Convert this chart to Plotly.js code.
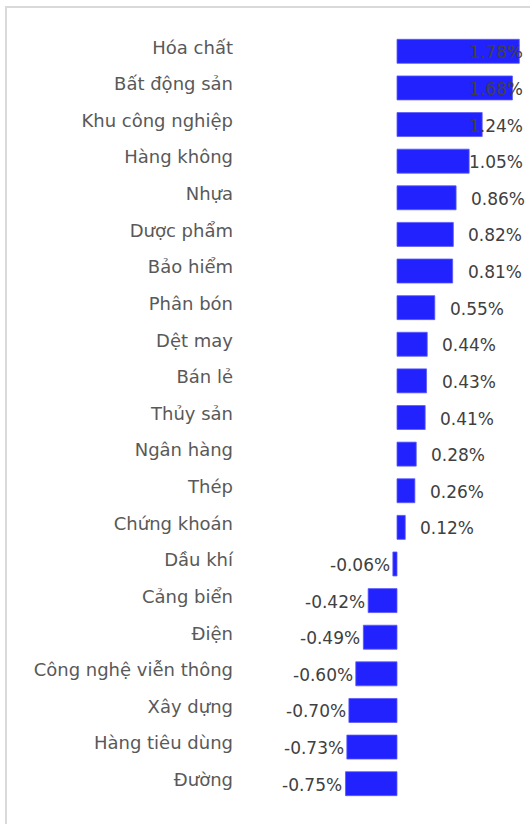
<!DOCTYPE html>
<html>
<head>
<meta charset="utf-8">
<script src="https://cdn.plot.ly/plotly-3.0.1.min.js"></script>
<style>
  html, body { margin: 0; padding: 0; background: #fff; }
  #frame { position: absolute; left: 5px; top: 6px; width: 530px; height: 830px;
           border-left: 2px solid #d9d9d9; border-top: 2px solid #d9d9d9; }
  #chart { position: absolute; left: 0; top: 0; width: 530px; height: 824px; }
</style>
</head>
<body>
<div id="frame"></div>
<div id="chart"></div>
<script>
const categories = [
  "Hóa chất", "Bất động sản", "Khu công nghiệp", "Hàng không", "Nhựa",
  "Dược phẩm", "Bảo hiểm", "Phân bón", "Dệt may", "Bán lẻ", "Thủy sản",
  "Ngân hàng", "Thép", "Chứng khoán", "Dầu khí", "Cảng biển", "Điện",
  "Công nghệ viễn thông", "Xây dựng", "Hàng tiêu dùng", "Đường"
];
const values = [
  1.78, 1.68, 1.24, 1.05, 0.86, 0.82, 0.81, 0.55, 0.44, 0.43, 0.41,
  0.28, 0.26, 0.12, -0.06, -0.42, -0.49, -0.60, -0.70, -0.73, -0.75
];
const valueLabels = values.map(v => v.toFixed(2) + "%");

const xMin = -2.285, xMax = 1.863;
const labelFont = { family: "DejaVu Sans, Verdana, sans-serif", size: 17, color: "#404040" };

const annotations = values.map((v, i) => {
  if (v >= 0) {
    // outside end, but kept inside the chart's right edge
    const overflow = v > 0.95;
    return overflow
      ? { x: 1, xref: "paper", y: categories[i], yref: "y", text: valueLabels[i],
          xanchor: "right", showarrow: false, font: labelFont, yshift: -1 }
      : { x: v, xref: "x", y: categories[i], yref: "y", text: valueLabels[i],
          xanchor: "left", xshift: 13, showarrow: false, font: labelFont, yshift: -1 };
  }
  return { x: v, xref: "x", y: categories[i], yref: "y", text: valueLabels[i],
           xanchor: "right", xshift: -1, showarrow: false, font: labelFont, yshift: -1 };
});

const trace = {
  type: "bar",
  orientation: "h",
  x: values,
  y: categories,
  marker: { color: "#2222ff", line: { color: "#5a5aff", width: 0.8 } },
  hoverinfo: "x+y"
};

const layout = {
  width: 530, height: 824,
  margin: { l: 240, r: 5, t: 33, b: 22 },
  paper_bgcolor: "rgba(0,0,0,0)",
  plot_bgcolor: "rgba(0,0,0,0)",
  bargap: 0.345,
  showlegend: false,
  xaxis: { range: [xMin, xMax], showgrid: false, zeroline: false, showticklabels: false,
           showline: false, fixedrange: true },
  yaxis: { autorange: "reversed", showgrid: false, zeroline: false, showline: false,
           ticks: "", ticklabelstandoff: 6, ticklabelshift: 4,
           tickfont: { family: "DejaVu Sans, Verdana, sans-serif", size: 18, color: "#595959" } },
  annotations: annotations
};

Plotly.newPlot("chart", [trace], layout, { displayModeBar: false, staticPlot: true });
</script>
</body>
</html>
